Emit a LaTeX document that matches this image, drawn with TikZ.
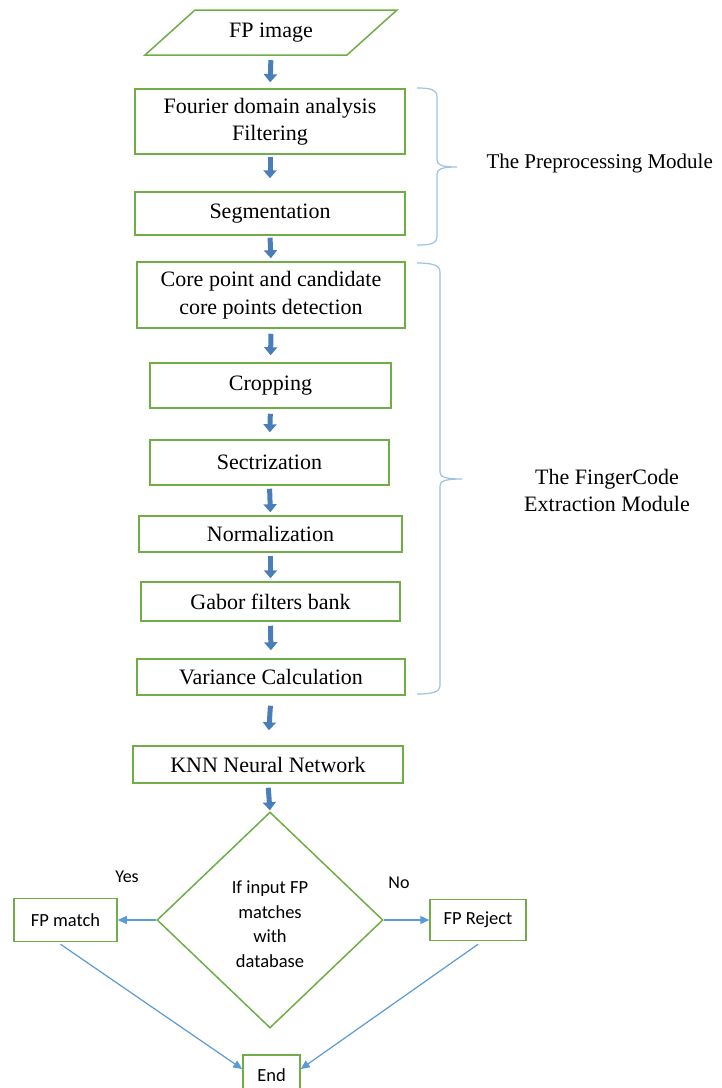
\documentclass[tikz,border=0pt]{standalone}
\usepackage{fontspec}
\setmainfont{Liberation Serif}
\newfontfamily\calfont{Carlito}
\usetikzlibrary{shapes.geometric,arrows.meta}

\definecolor{boxgreen}{HTML}{70AD47}
\definecolor{flowblue}{HTML}{4A7EBB}
\definecolor{linkblue}{HTML}{5B9BD5}
\definecolor{bracecol}{HTML}{9DC3E6}

\tikzset{
  box/.style={draw=boxgreen, line width=1.5pt, rectangle, align=center,
    inner sep=0pt, font=\fontsize{22}{27.5}\selectfont},
  smallbox/.style={draw=boxgreen, line width=1.5pt, rectangle, align=center,
    inner sep=0pt, font=\calfont\fontsize{18.5}{22}\selectfont},
  flow/.style={draw=flowblue, line width=5pt,
    -{Triangle[length=8pt,width=13pt]}},
  link/.style={draw=linkblue, line width=1.2pt,
    -{Triangle[length=9pt,width=8pt]}},
  brace/.style={draw=bracecol, line width=1.2pt},
  note/.style={font=\fontsize{22}{27}\selectfont, align=center},
  tag/.style={font=\calfont\fontsize{18}{21}\selectfont},
}

\begin{document}
\begin{tikzpicture}[x=1pt, y=-1pt]
\clip (0,0) rectangle (721,1088);
\fill[white] (0,0) rectangle (721,1088);

% input parallelogram
\node[minimum width=150pt, minimum height=45pt, inner sep=0pt,
  font=\fontsize{22}{27}\selectfont] (fp) at (271,32.5) {FP image};
\draw[draw=boxgreen, line width=1.5pt, shift={(fp.center)}]
  (-76,-22.5) -- (126,-22.5) -- (76,22.5) -- (-126,22.5) -- cycle;

% preprocessing steps
\node[box, minimum width=270pt, minimum height=65pt] (fourier) at (270,121.5)
  {Fourier domain analysis\\Filtering};
\node[box, minimum width=270pt, minimum height=43pt] (seg) at (270,213.5)
  {Segmentation};

% feature extraction steps
\node[box, minimum width=268pt, minimum height=66pt] (core) at (271,295)
  {Core point and candidate\\core points detection};
\node[box, minimum width=241pt, minimum height=45pt] (crop) at (270.5,385.5)
  {Cropping};
\node[box, minimum width=239pt, minimum height=45pt] (sect) at (269.5,462.5)
  {Sectrization};
\node[box, minimum width=263pt, minimum height=36pt] (norm) at (270.5,534)
  {Normalization};
\node[box, minimum width=259pt, minimum height=39pt] (gabor) at (270.5,601.5)
  {Gabor filters bank};
\node[box, minimum width=268pt, minimum height=36pt] (var) at (271,677)
  {Variance Calculation};

% classifier
\node[box, minimum width=270pt, minimum height=37pt] (knn) at (268,764.5)
  {KNN Neural Network};

% decision
\node[diamond, draw=boxgreen, line width=1.5pt, inner sep=0pt,
  minimum width=226pt, minimum height=216pt] (dec) at (270,920) {};
\node[align=center, inner sep=0pt,
  font=\calfont\fontsize{18.5}{24.5}\selectfont] (dectext) at (270,924)
  {If input FP\\matches\\with\\database};

\node[smallbox, minimum width=103pt, minimum height=43pt] (match) at (65.5,920)
  {FP match};
\node[smallbox, minimum width=96pt, minimum height=41pt] (reject) at (478,920)
  {FP Reject};
\node[smallbox, minimum width=57pt, minimum height=40pt] (end) at (271.5,1075)
  {End};

\node[tag] (yes) at (127,877) {Yes};
\node[tag] (no) at (399,883) {No};

% main flow arrows
\draw[flow, shorten <=5pt, shorten >=6pt] (fp.south) -- (fourier.north);
\draw[flow, shorten <=2pt, shorten >=13pt] (fourier.south) -- (seg.north);
\draw[flow, shorten <=2pt, shorten >=3pt] (seg.south) -- (core.north);
\draw[flow, shorten <=5pt, shorten >=7pt] (core.south) -- (crop.north);
\draw[flow, shorten <=5pt, shorten >=7pt] (crop.south) -- (sect.north);
\draw[flow, shorten <=3pt, shorten >=3pt] (sect.south) -- (norm.north);
\draw[flow, shorten <=3pt, shorten >=3pt] (norm.south) -- (gabor.north);
\draw[flow, shorten <=4pt, shorten >=8pt] (gabor.south) -- (var.north);
\draw[flow, shorten <=10pt, shorten >=15pt] (var.south) -- (knn.north);
\draw[flow, shorten <=4pt, shorten >=1pt] (knn.south) -- (dec.north);

% decision branches
\draw[link] (dec.west) -- (match.east);
\draw[link] (dec.east) -- (reject.west);
\draw[link] ([xshift=-5pt, yshift=-2pt]match.south) -- ([yshift=6pt]end.west);
\draw[link] ([yshift=-3pt]reject.south) -- ([yshift=6pt]end.east);

% module braces
\draw[brace] (417,88) .. controls (432,88) and (437,90) .. (437,97)
  -- (437,160) .. controls (437,165) and (442,167) .. (457,167)
  .. controls (442,167) and (437,169) .. (437,174)
  -- (437,237) .. controls (437,243) and (432,245) .. (417,245);
\draw[brace] (417,263) .. controls (432,263) and (440,265) .. (440,272)
  -- (440,472) .. controls (440,477) and (445,479) .. (462,479)
  .. controls (445,479) and (440,481) .. (440,486)
  -- (440,686) .. controls (440,692) and (432,694) .. (417,694);

\node[note, anchor=west, font=\fontsize{21}{27}\selectfont] (prep) at (483,163)
  {The Preprocessing Module};
\node[note] (fce) at (607,490) {The FingerCode\\Extraction Module};
\end{tikzpicture}
\end{document}
